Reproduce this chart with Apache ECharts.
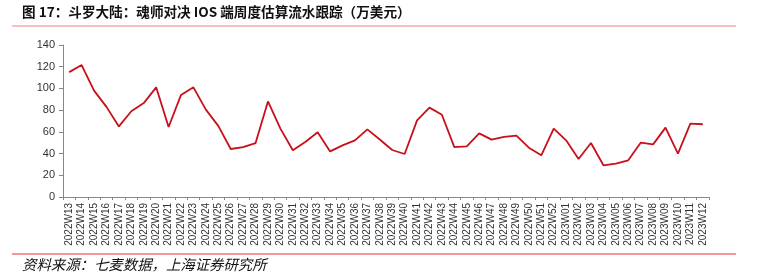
<!DOCTYPE html>
<html><head><meta charset="utf-8">
<script src="https://cdn.jsdelivr.net/npm/echarts@6/dist/echarts.min.js"></script>
<style>html,body{margin:0;padding:0;background:#fff;}#c{width:757px;height:280px;}</style>
</head><body><div id="c"></div>
<script>
const titleText = '图 17：斗罗大陆：魂师对决 IOS 端周度估算流水跟踪（万美元）';
const sourceText = '资料来源：七麦数据，上海证券研究所';
const categories = [
 '2022W13','2022W14','2022W15','2022W16','2022W17','2022W18','2022W19','2022W20','2022W21','2022W22',
 '2022W23','2022W24','2022W25','2022W26','2022W27','2022W28','2022W29','2022W30','2022W31','2022W32',
 '2022W33','2022W34','2022W35','2022W36','2022W37','2022W38','2022W39','2022W40','2022W41','2022W42',
 '2022W43','2022W44','2022W45','2022W46','2022W47','2022W48','2022W49','2022W50','2022W51','2022W52',
 '2023W01','2023W02','2023W03','2023W04','2023W05','2023W06','2023W07','2023W08','2023W09','2023W10',
 '2023W11','2023W12'];
const revenue = [
 115,121.5,98,83,65,79,86.5,101,64.5,94,
 101,80.5,65.5,44.2,46,49.7,88,63,43,50.7,
 59.6,42,47.6,52.2,62.3,53,43.3,39.6,70.6,82.3,
 75.8,46,46.7,58.6,52.8,55.3,56.5,45.4,38.4,63,
 52.2,35,49.7,29.2,30.7,33.8,50,48.5,63.9,40,
 67.5,67];
const yTicks = [0,20,40,60,80,100,120,140];

const chart = echarts.init(document.getElementById('c'), null, {renderer:'canvas'});
chart.setOption({
  animation:false,
  backgroundColor:'#fff',
  grid:{left:63,right:48,top:45,bottom:83,containLabel:false},
  xAxis:{
    type:'category', data:categories, boundaryGap:true,
    axisLine:{lineStyle:{color:'#888',width:1}},
    axisTick:{show:true,length:3,lineStyle:{color:'#888'}},
    axisLabel:{rotate:90,interval:0,fontSize:10,color:'#333',fontFamily:'Liberation Sans, Arial',margin:6}
  },
  yAxis:{
    type:'value', min:yTicks[0], max:yTicks[yTicks.length-1], interval:20,
    axisLine:{show:true,lineStyle:{color:'#888',width:1}},
    axisTick:{show:true,length:4,lineStyle:{color:'#888'}},
    splitLine:{show:false},
    axisLabel:{fontSize:11,color:'#333',fontFamily:'Liberation Sans, Arial',margin:8}
  },
  series:[{
    type:'line', data:revenue, symbol:'none',
    lineStyle:{color:'#c8101a',width:1.8}
  }],
  graphic:[
    {type:'text',left:22,top:5,style:{text:titleText,font:'bold 13.6px "Noto Sans CJK SC"',fill:'#111'}},
    {type:'line',shape:{x1:12,y1:26,x2:736,y2:26},style:{stroke:'#f7a8a8',lineWidth:1.5}},
    {type:'line',shape:{x1:12,y1:254,x2:736,y2:254},style:{stroke:'#f03030',lineWidth:1.2}},
    {type:'text',left:22,top:257,style:{text:sourceText,font:'italic 14.4px "Noto Sans CJK SC"',fill:'#111'}}
  ]
});
</script></body></html>
